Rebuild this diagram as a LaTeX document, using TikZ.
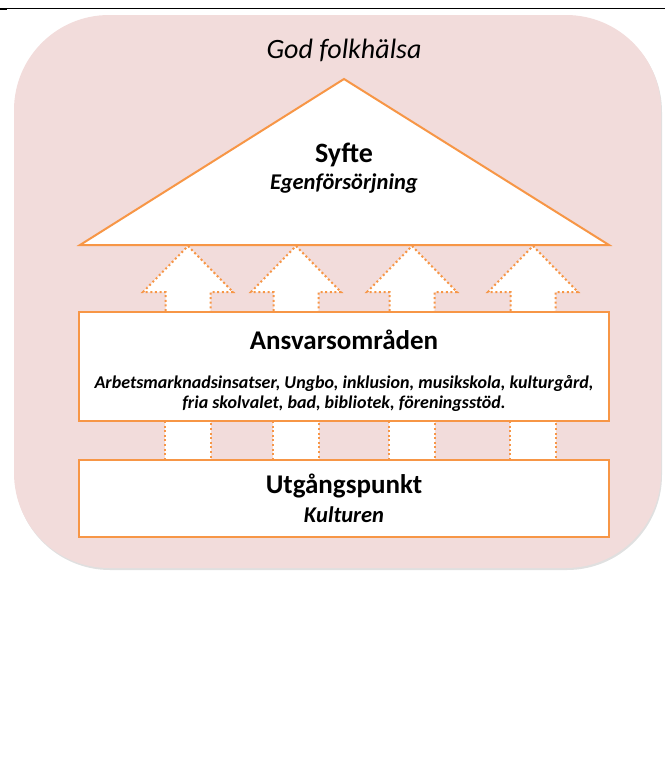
\documentclass[tikz,border=0pt]{standalone}
\usepackage{fontspec}
\setmainfont{Carlito}
\usepackage{tikz}
\usetikzlibrary{calc}
\definecolor{bgpink}{HTML}{F2DCDB}
\definecolor{pillarorange}{HTML}{F79646}
\def\liftarrow(#1){\draw[line width=2pt, color=pillarorange, fill=white, dash pattern=on 2pt off 2.6pt] ({#1-22.5}, 311) -- ({#1-22.5}, 292) -- ({#1-45}, 292) -- (#1, 246) -- ({#1+45}, 292) -- ({#1+22.5}, 292) -- ({#1+22.5}, 311);}
\def\stepblock(#1){\draw[line width=2pt, color=pillarorange, fill=white, dash pattern=on 2pt off 2.6pt] ({#1-23}, 421) rectangle ({#1+23}, 460);}

\begin{document}
\begin{tikzpicture}[x=1pt, y=-1pt]
			%%%%% START %%%%%
			
			\useasboundingbox (0, 0) rectangle (665, 772);
			
			\draw[line width=1pt] (0, 8) -- (665, 8);
			\fill[black] (0, 8) rectangle (7, 10);
			
			\fill[black!12, rounded corners=95pt] (15, 17) rectangle (662, 570);
			\fill[bgpink, rounded corners=95pt] (14, 15) rectangle (661, 568);
			
			\node[font=\fontsize{28}{32}\selectfont\itshape, anchor=base] (health) at (344, 58) {God folkhälsa};
			
			\draw[line width=2pt, color=pillarorange, fill=white, line join=miter] (80, 245) -- (344, 79) -- (609, 245) -- cycle;
			\node[font=\fontsize{28}{32}\selectfont\bfseries, anchor=base] (roof) at (344, 162) {Syfte};
			\node[font=\fontsize{22.5}{26}\selectfont\bfseries\itshape, anchor=base] (roofsub) at (344, 189) {Egenförsörjning};
			
			\liftarrow(188)
			\liftarrow(296)
			\liftarrow(412)
			\liftarrow(533)
			
			\stepblock(188)
			\stepblock(296)
			\stepblock(412)
			\stepblock(533)
			
			\draw[line width=2pt, color=pillarorange, fill=white] (79, 312) rectangle (609, 421);
			\node[font=\fontsize{27}{31}\selectfont\bfseries, anchor=base] (areas) at (344, 349) {Ansvarsområden};
			\node[font=\fontsize{18}{22}\selectfont\bfseries\itshape, anchor=base] (areasa) at (344, 388) {Arbetsmarknadsinsatser, Ungbo, inklusion, musikskola, kulturgård,};
			\node[font=\fontsize{18}{22}\selectfont\bfseries\itshape, anchor=base] (areasb) at (344, 408) {fria skolvalet, bad, bibliotek, föreningsstöd.};
			
			\draw[line width=2pt, color=pillarorange, fill=white] (79, 460) rectangle (609, 537);
			\node[font=\fontsize{27}{31}\selectfont\bfseries, anchor=base] (base) at (344, 493) {Utgångspunkt};
			\node[font=\fontsize{22.5}{26}\selectfont\bfseries\itshape, anchor=base] (basesub) at (344, 522) {Kulturen};
			
			%%%%% END %%%%%
\end{tikzpicture}
\end{document}
